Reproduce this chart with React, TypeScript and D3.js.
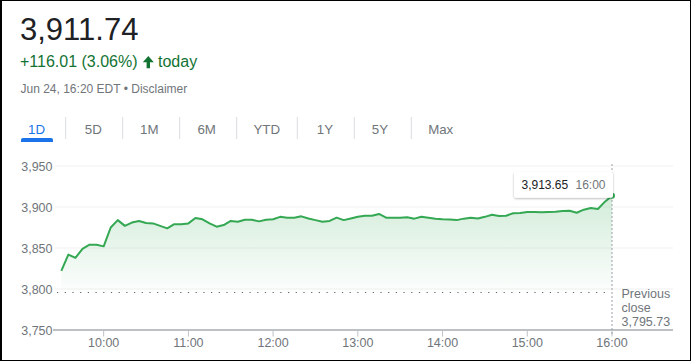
import React from 'react';
import * as d3 from 'd3';

// index quote, intraday 5-minute closes from 9:30 to 16:00
const lastPrice = '3,911.74';
const change = '+116.01 (3.06%)';
const stamp = 'Jun 24, 16:20 EDT • Disclaimer';
const ranges = ['1D', '5D', '1M', '6M', 'YTD', '1Y', '5Y', 'Max'];
const prevClose = 3795.73;
const yTicks = [3750, 3800, 3850, 3900, 3950];
const xTickHours = [10, 11, 12, 13, 14, 15, 16];
const openMinute = 9 * 60 + 30;
const stepMinutes = 5;
const prices = [
  3822, 3842, 3838, 3849, 3854, 3854, 3852, 3875, 3884, 3877,
  3881, 3883, 3880.5, 3880, 3877, 3874, 3879, 3879, 3880, 3886.6,
  3885, 3880, 3876, 3878, 3883, 3882, 3884.5, 3884.5, 3882.5, 3884.5,
  3885, 3888, 3887, 3887, 3888.6, 3886, 3884, 3882, 3883, 3887,
  3884, 3886, 3888, 3889.4, 3889.4, 3891.5, 3887, 3887, 3887, 3887.4,
  3885.8, 3888, 3887, 3885.8, 3885, 3884.7, 3884, 3885.8, 3887, 3886,
  3888, 3890.6, 3889, 3889.4, 3892.3, 3892.7, 3894, 3894, 3893.5, 3894,
  3894.3, 3895, 3895.5, 3893, 3896.7, 3898.8, 3897.6, 3906.5, 3913.65,
];

const FONT = "Arial, 'Liberation Sans', sans-serif";
const GRAY = '#70757a';
const GREEN_TEXT = '#137333';
const LINE = '#34a853';

export default function App() {
  const W = 691, H = 361;

  const x = d3.scaleLinear().domain([openMinute, 16 * 60]).range([61.3, 612]);
  const y = d3.scaleLinear().domain([3750, 3950]).range([330, 166]);

  const pts = prices.map((v, i) => ({ t: openMinute + i * stepMinutes, v }));
  const line = d3.line<{ t: number; v: number }>().x(d => x(d.t)).y(d => y(d.v));
  const area = d3.area<{ t: number; v: number }>()
    .x(d => x(d.t)).y0(y(prevClose)).y1(d => y(d.v));

  const last = pts[pts.length - 1];
  const lx = x(last.t), ly = y(last.v);
  const fmt = d3.format(',.2f');
  const hh = (h: number) => `${h}:00`;

  // tab layout
  const tabCenters = [36.5, 93.3, 149.3, 206.7, 266.7, 325, 380, 440.7];
  const seps = [65.7, 122.7, 179.7, 236.7, 297.3, 354.3, 411.3];

  return (
    <svg width={W} height={H} style={{ position: 'fixed', left: 0, top: 0, background: '#fff' }}
      fontFamily={FONT}>
      <defs>
        <linearGradient id="fillG" x1="0" y1="0" x2="0" y2="1">
          <stop offset="0%" stopColor={LINE} stopOpacity={0.22} />
          <stop offset="100%" stopColor={LINE} stopOpacity={0.01} />
        </linearGradient>
        <filter id="shadow" x="-20%" y="-40%" width="140%" height="190%">
          <feDropShadow dx="0" dy="1" stdDeviation="1.2" floodColor="#000" floodOpacity="0.28" />
        </filter>
      </defs>
      <rect width={W} height={H} fill="#fff" />

      {/* header */}
      <text x={20} y={39.5} fontSize={31} fill="#202124">{lastPrice}</text>
      <text x={20} y={67} fontSize={16} fill={GREEN_TEXT}>{change}</text>
      <path d="M142.8,62.3 L148.3,56 L153.8,62.3 L150,62.3 L150,68.3 L146.6,68.3 L146.6,62.3 Z"
        fill={GREEN_TEXT} />
      <text x={158} y={67} fontSize={16} fill={GREEN_TEXT}>today</text>
      <text x={20.5} y={93} fontSize={12} fill={GRAY}>{stamp}</text>

      {/* range tabs */}
      {ranges.map((r, i) => (
        <text key={r} x={tabCenters[i]} y={133.5} fontSize={13.3} textAnchor="middle"
          fill={i === 0 ? '#1a73e8' : GRAY}>{r}</text>
      ))}
      {seps.map(s => (
        <line key={s} x1={s} x2={s} y1={117} y2={139} stroke="#dadce0" strokeWidth={1} />
      ))}
      <path d="M21,142 L21,140 Q21,138 23,138 L51,138 Q53,138 53,140 L53,142 Z" fill="#1a73e8" />

      {/* grid */}
      {yTicks.filter(t => t !== 3750).map(t => (
        <line key={t} x1={55} x2={673} y1={y(t)} y2={y(t)} stroke="#f1f1f1" strokeWidth={1} />
      ))}
      {yTicks.map(t => (
        <text key={t} x={52.5} y={y(t) + 4.5} fontSize={12.5} textAnchor="end" fill={GRAY}>
          {d3.format(',')(t)}
        </text>
      ))}

      {/* area + line */}
      <path d={area(pts) ?? ''} fill="url(#fillG)" />
      <path d={line(pts) ?? ''} fill="none" stroke={LINE} strokeWidth={2} strokeLinejoin="round" />

      {/* previous close */}
      <line x1={57} x2={lx - 3} y1={y(prevClose)} y2={y(prevClose)}
        stroke="#5f6368" strokeWidth={1.2} strokeDasharray="1.2 6.5" />
      <text fontSize={12.5} fill={GRAY}>
        <tspan x={621.5} y={297.5}>Previous</tspan>
        <tspan x={621.5} y={311.5}>close</tspan>
        <tspan x={621.5} y={325.8}>{fmt(prevClose)}</tspan>
      </text>

      {/* x axis */}
      <line x1={53} x2={673} y1={y(3750)} y2={y(3750)} stroke="#bdc1c6" strokeWidth={2} />
      {xTickHours.map(h => (
        <g key={h}>
          <line x1={x(h * 60)} x2={x(h * 60)} y1={y(3750)} y2={y(3750) + 6.5} stroke="#bdc1c6" strokeWidth={1} />
          <text x={x(h * 60)} y={347} fontSize={12.5} textAnchor="middle" fill={GRAY}>{hh(h)}</text>
        </g>
      ))}

      {/* hover crosshair & tooltip */}
      <line x1={lx} x2={lx} y1={164} y2={y(3750) + 6} stroke="#9aa0a6" strokeWidth={1} strokeDasharray="2 2" />
      <circle cx={lx} cy={ly} r={3} fill={LINE} />
      <rect x={lx - 98} y={ly - 24} width={99} height={26} rx={2} fill="#fff" filter="url(#shadow)" />
      <text x={lx - 90.5} y={ly - 7} fontSize={12} fill="#202124">{fmt(last.v)}</text>
      <text x={lx - 36.5} y={ly - 7} fontSize={12} fill={GRAY}>{hh(16)}</text>

      {/* frame */}
      <rect x={0} y={0} width={2} height={H} fill="#000" />
      <rect x={0} y={0} width={W} height={1} fill="#000" />
      <rect x={690} y={0} width={1} height={H} fill="#000" />
      <rect x={0} y={360} width={W} height={1} fill="#000" />
    </svg>
  );
}
